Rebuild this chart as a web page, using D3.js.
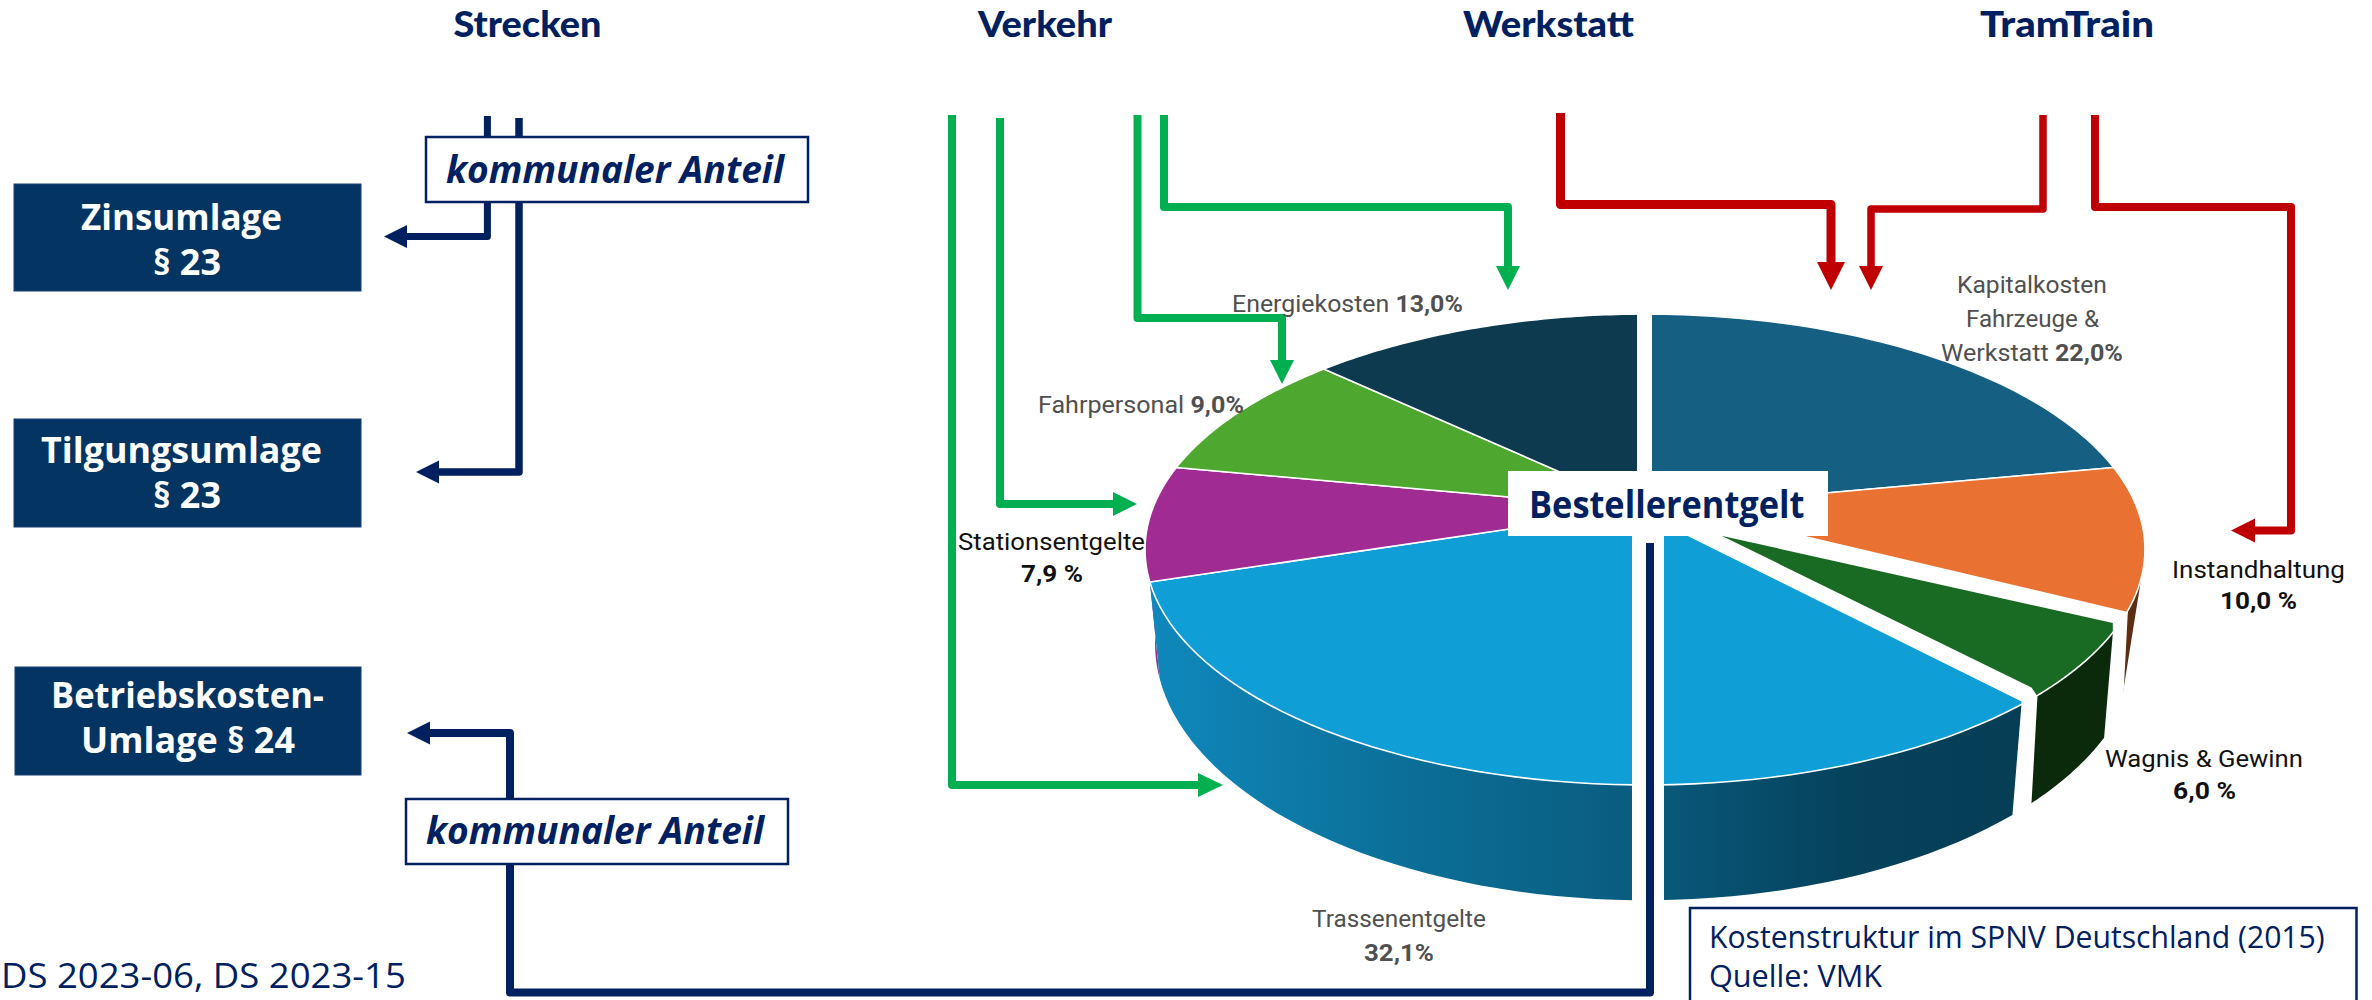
<!DOCTYPE html>
<html lang="de">
<head>
<meta charset="utf-8">
<title>Kostenstruktur im SPNV Deutschland</title>
<script src="https://cdn.jsdelivr.net/npm/d3@7"></script>
<style>
html,body{margin:0;padding:0;background:#fff;overflow:hidden}
svg{display:block}
</style>
</head>
<body>
<svg id="chart" width="2372" height="1000"></svg>
<script>
// ---------- data ----------
const sliceNames = ["Kapitalkosten Fahrzeuge & Werkstatt","Instandhaltung","Wagnis & Gewinn","Trassenentgelte","Stationsentgelte","Fahrpersonal","Energiekosten"];
const sliceShares = [22.0,10.0,6.0,32.1,7.9,9.0,13.0];
const topColors  = ["#156082","#e97132","#196b24","#0f9ed5","#a02b93","#4ea72e","#0d3a4e"];
const sideColors = ["#0d3a4e","#5c2d13","#0b2a0c","url(#wallGrad)","#a02b93","#2f641c","#082330"];
const headers = ["Strecken","Verkehr","Werkstatt","TramTrain"];

const NAVY="#002060", GREEN="#00b050", RED="#c00000", BOX="#033462";

const svg = d3.select("#chart");
const defs = svg.append("defs");
const grad = defs.append("linearGradient").attr("id","wallGrad").attr("gradientUnits","userSpaceOnUse")
  .attr("x1",1150).attr("x2",2020).attr("y1",0).attr("y2",0);
[[0,"#0f88bc"],[0.28,"#0b7099"],[0.55,"#0a5c80"],[0.8,"#05425c"],[1,"#063e55"]]
  .forEach(s=>grad.append("stop").attr("offset",s[0]).attr("stop-color",s[1]));

// ---------- perspective pie geometry ----------
const cx=1645, cy=509, k=0.172;
const xScale=d3.scaleLinear().domain([-1,1]).range([cx-492.5,cx+492.5]);
const yScale=d3.scaleLinear().domain([-1,1]).range([cy-228.5,cy+228.5]);
function proj(theta,r=1){
  const X=r*Math.sin(theta), Y=-r*Math.cos(theta), p=1/(1-k*Y);
  return [xScale(X*p), yScale(Y*p)];
}
function lower(pt){
  const s = pt[0]<cx ? 0.98 : 0.987;
  return [cx+(pt[0]-cx)*s, pt[1]+97+(pt[1]-582)*0.09];
}
const arcs=d3.pie().sort(null).value(d=>d)(sliceShares);
const line=d3.line();
function rim(a,b){ return d3.range(0,61).map(i=>proj(a+(b-a)*i/60)); }

// side walls, back to front
const wallOrder=[0,6,5,1,2,4,3];
svg.append("g").selectAll("path").data(wallOrder).join("path")
  .attr("d",i=>{
    if(i===1){ // only a thin sliver of this wall shows past the rim
      const a=arcs[i].endAngle-0.148, top=rim(a,arcs[i].endAngle);
      return line(top.concat([lower(top[60])]))+"Z";
    }
    const top=rim(arcs[i].startAngle,arcs[i].endAngle);
    return line(top.concat(top.map(lower).reverse()))+"Z";
  })
  .attr("fill",i=>sideColors[i]);

// top faces
svg.append("g").selectAll("path").data(arcs).join("path")
  .attr("d",d=>line([proj(0,0)].concat(rim(d.startAngle,d.endAngle)))+"Z")
  .attr("fill",(d,i)=>topColors[i])
  .attr("stroke","#fff").attr("stroke-width",1.6).attr("stroke-linejoin","round");

// white separators between the slices
const off=(p,dx,dy)=>[p[0]+dx,p[1]+dy];
const rA=proj(arcs[1].endAngle), rB=proj(arcs[2].endAngle);
const lA=lower(rA), lB=lower(rB);
const separators=[
  [off(rA,-426,-103),off(rA,2,-2),off(lA,2,18),off(lA,-16,30),off(rA,-13,19),off(rA,-13,9),off(rA,-426,-83)],
  [off(rB,-370,-177),off(rB,-9,2),off(rB,-9,5),off(lB,-14,20),off(lB,1,20),off(rB,1,104),off(rB,7,-3),off(rB,1,-12),off(rB,-330,-174)],
  [[1637,300],[1652,300],[1652,480],[1637,480]],
  [[1632,520],[1664,520],[1664,912],[1632,912]]
];
svg.append("g").selectAll("polygon").data(separators).join("polygon")
  .attr("points",d=>d.join(" ")).attr("fill","#fff");

// ---------- connectors ----------
function connector(pts,color,w,headLen,headHalf){
  const n=pts.length, tip=pts[n-1], prev=pts[n-2];
  const L=Math.hypot(tip[0]-prev[0],tip[1]-prev[1]);
  const ux=(tip[0]-prev[0])/L, uy=(tip[1]-prev[1])/L;
  const base=[tip[0]-ux*headLen,tip[1]-uy*headLen];
  svg.append("path").attr("d",line(pts.slice(0,n-1).concat([base])))
    .attr("fill","none").attr("stroke",color).attr("stroke-width",w).attr("stroke-linejoin","round");
  if(headLen){
    svg.append("polygon").attr("fill",color).attr("points",[
      tip,[base[0]-uy*headHalf,base[1]+ux*headHalf],[base[0]+uy*headHalf,base[1]-ux*headHalf]
    ].join(" "));
  }
}
connector([[487.4,116],[487.4,236.5],[384,236.5]],NAVY,7,23,11.5);
connector([[519,118],[519,472],[416,472]],NAVY,7.5,23,11.5);
connector([[1650,543],[1650,992.5],[510,992.5],[510,733],[407,733]],NAVY,8,23,11.5);
connector([[952,115],[952,785],[1223,785]],GREEN,8,25,12);
connector([[1000,118],[1000,504],[1137,504]],GREEN,8,24,12);
connector([[1137.5,115],[1137.5,318],[1282,318],[1282,384]],GREEN,8,24,12);
connector([[1164,115],[1164,207],[1508,207],[1508,290]],GREEN,8,24,12);
connector([[1560.5,113],[1560.5,204.5],[1831,204.5],[1831,290]],RED,9,28,14);
connector([[2043,115],[2043,209],[1871,209],[1871,290]],RED,7.5,24,12);
connector([[2095,115],[2095,207],[2291,207],[2291,530.5],[2231,530.5]],RED,8,24,12);

// ---------- boxes ----------
function box(x0,y0,x1,y1,fill,stroke,sw){
  svg.append("rect").attr("x",x0).attr("y",y0).attr("width",x1-x0).attr("height",y1-y0)
    .attr("fill",fill).attr("stroke",stroke).attr("stroke-width",sw);
}
box(14,184,361,291,BOX,"#1d3f78",1);
box(14,419,361,527,BOX,"#1d3f78",1);
box(15,667,361,775,BOX,"#1d3f78",1);
box(426,137,808,202,"#fff",NAVY,2.5);
box(406,799,788,864,"#fff",NAVY,2.5);
box(1690,908,2356.5,1004,"#fff",NAVY,2.5);
box(1508,471,1828,536,"#fff","none",0);

// ---------- text, each run fitted to its measured width ----------
function txt(parts,x0,x1,y,size,color,family,opt={}){
  const t=svg.append("text").attr("font-family",family).attr("font-size",size)
    .attr("fill",color).attr("font-weight",opt.weight||400).attr("font-style",opt.style||"normal");
  parts.forEach(p=>t.append("tspan").attr("font-weight",p[1]?700:null).text(p[0]));
  const len=t.node().getComputedTextLength();
  t.attr("transform",`translate(${x0},${y}) scale(${(x1-x0)/len},1)`);
}
const UI="'Open Sans',sans-serif", LB="Roboto,sans-serif", HD="Lato,sans-serif";
const B={weight:700};
txt([[headers[0]]],453.6,601.5,37,37,NAVY,HD,{weight:900});
txt([[headers[1]]],978,1112,37,37,NAVY,HD,{weight:900});
txt([[headers[2]]],1463,1634,37,37,NAVY,HD,{weight:900});
txt([[headers[3]]],1980,2154,37,37,NAVY,HD,{weight:900});

txt([["Zinsumlage"]],81,282,230,36,"#fff",UI,B);
txt([["§ 23"]],153,221,275,36,"#fff",UI,B);
txt([["Tilgungsumlage"]],41,322,463,36,"#fff",UI,B);
txt([["§ 23"]],153,221,508,36,"#fff",UI,B);
txt([["Betriebskosten-"]],51,324,708,36,"#fff",UI,B);
txt([["Umlage § 24"]],81,295,753,36,"#fff",UI,B);

txt([["kommunaler Anteil"]],446,784,183,37,NAVY,UI,{weight:700,style:"italic"});
txt([["kommunaler Anteil"]],426,764,844,37,NAVY,UI,{weight:700,style:"italic"});
txt([["Bestellerentgelt"]],1529,1804.5,518,38,NAVY,UI,B);
txt([["DS 2023-06, DS 2023-15"]],1,406,988,35,NAVY,UI);
txt([["Kostenstruktur im SPNV Deutschland (2015)"]],1709,2325,948,31,NAVY,UI);
txt([["Quelle: VMK"]],1709,1882,987,31,NAVY,UI);

const GREY="#505050", INK="#111111";
txt([["Energiekosten "],["13,0%",1]],1232,1463,312,24,GREY,LB);
txt([["Fahrpersonal "],["9,0%",1]],1038,1244,413,24,GREY,LB);
txt([["Kapitalkosten"]],1957,2107,293,24,GREY,LB);
txt([["Fahrzeuge &"]],1966,2099,327,24,GREY,LB);
txt([["Werkstatt "],["22,0%",1]],1941,2123,361,24,GREY,LB);
txt([["Instandhaltung"]],2172,2345,578,24,INK,LB);
txt([["10,0 %"]],2220,2297,609,24,INK,LB,B);
txt([["Wagnis & Gewinn"]],2105,2303,767,24,INK,LB);
txt([["6,0 %"]],2173,2236,799,24,INK,LB,B);
txt([["Stationsentgelte"]],958,1145,550,24,INK,LB);
txt([["7,9 %"]],1021,1083,582,24,INK,LB,B);
txt([["Trassenentgelte"]],1312,1486,927,24,GREY,LB);
txt([["32,1%"]],1364,1434,961,24,GREY,LB,B);
</script>
</body>
</html>
